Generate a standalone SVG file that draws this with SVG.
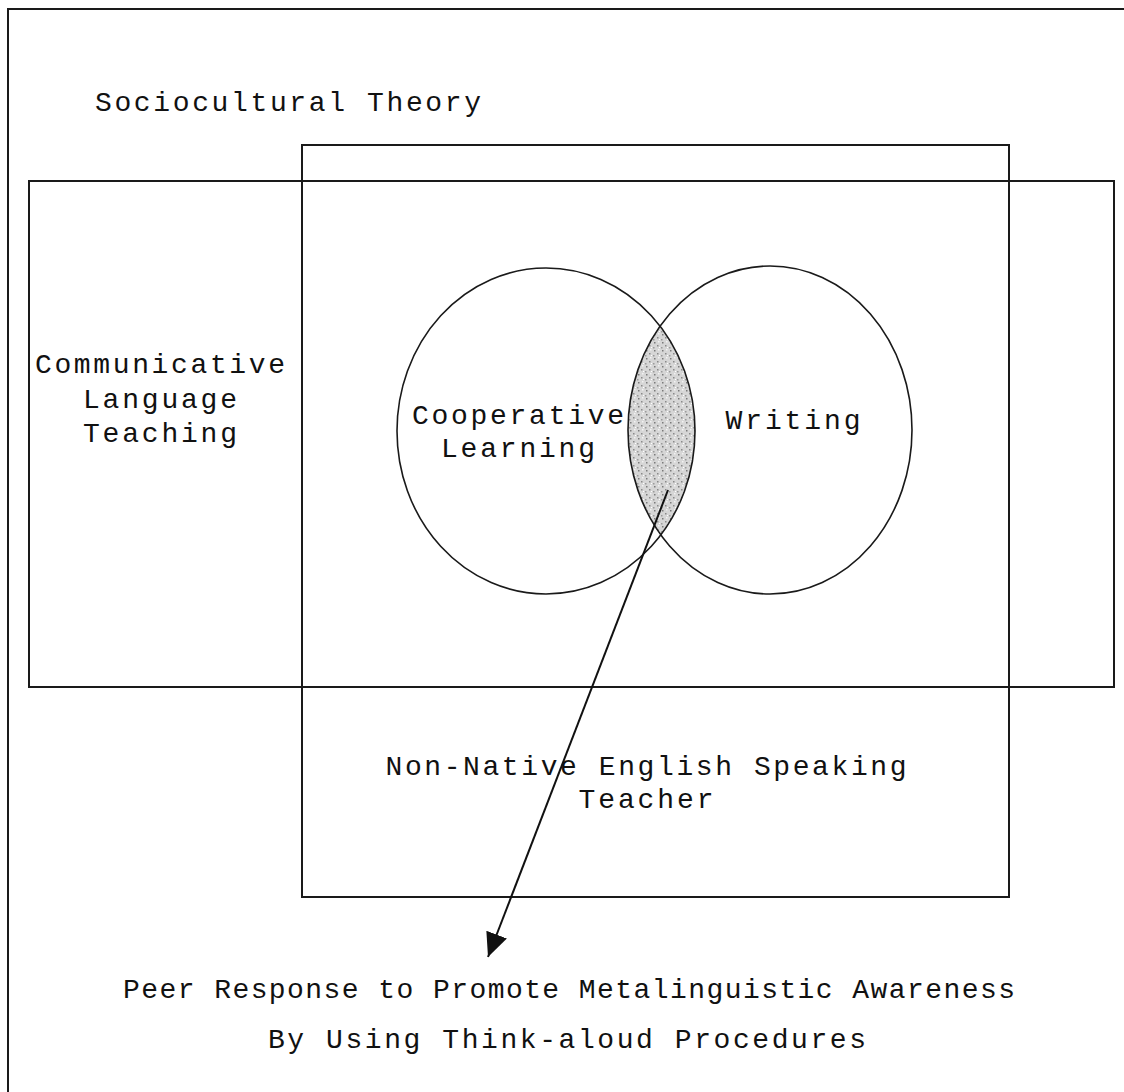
<svg xmlns="http://www.w3.org/2000/svg" width="1124" height="1092" viewBox="0 0 1124 1092">
<style>
.box{fill:none;stroke:#1a1a1a;stroke-width:2}
.circ{fill:none;stroke:#1a1a1a;stroke-width:1.6}
.t{font-family:"Liberation Mono","Courier New",monospace;font-size:28px;fill:#111;text-anchor:middle}
.conn{stroke:#111;stroke-width:2;fill:none}
</style>
<defs>
<marker id="ah" markerUnits="userSpaceOnUse" markerWidth="26" markerHeight="24" refX="24" refY="11" orient="auto">
<path d="M0,0 L24,11 L0,22 Z" fill="#111"/>
</marker>
<pattern id="stip" width="8" height="8" patternUnits="userSpaceOnUse">
<rect width="8" height="8" fill="#d6d6d6"/>
<rect x="1" y="1" width="1.5" height="1.5" fill="#8a8a8a"/>
<rect x="5" y="3" width="1.5" height="1.5" fill="#9a9a9a"/>
<rect x="2" y="5" width="1.5" height="1.5" fill="#f2f2f2"/>
<rect x="6" y="6" width="1.5" height="1.5" fill="#7a7a7a"/>
<rect x="3" y="3" width="1" height="1" fill="#ffffff"/>
</pattern>
<clipPath id="leftc">
<ellipse cx="546" cy="431" rx="149" ry="163"/>
</clipPath>
</defs>
<g id="frame">
<path class="box" d="M8,1100 L8,9 L1130,9"/>
<text class="t" x="288" y="111" textLength="386" lengthAdjust="spacing">Sociocultural Theory</text>
</g>
<g id="nnest">
<rect class="box" x="302" y="145" width="707" height="752"/>
<text class="t" x="646" y="775" textLength="521" lengthAdjust="spacing">Non-Native English Speaking</text>
<text class="t" x="646" y="808" textLength="135" lengthAdjust="spacing">Teacher</text>
</g>
<g id="clt">
<rect class="box" x="29" y="181" width="1085" height="506"/>
<text class="t" x="160" y="373" textLength="250" lengthAdjust="spacing">Communicative</text>
<text class="t" x="160" y="408" textLength="154" lengthAdjust="spacing">Language</text>
<text class="t" x="160" y="442" textLength="154" lengthAdjust="spacing">Teaching</text>
</g>
<g id="overlap">
<ellipse cx="770" cy="430" rx="142" ry="164" clip-path="url(#leftc)" fill="url(#stip)"/>
</g>
<g id="coop">
<ellipse class="circ" cx="546" cy="431" rx="149" ry="163"/>
<text class="t" x="518" y="424" textLength="212" lengthAdjust="spacing">Cooperative</text>
<text class="t" x="518" y="457" textLength="154" lengthAdjust="spacing">Learning</text>
</g>
<g id="writing">
<ellipse class="circ" cx="770" cy="430" rx="142" ry="164"/>
<text class="t" x="793" y="429" textLength="135" lengthAdjust="spacing">Writing</text>
</g>
<g id="connectors">
<line class="conn" x1="668" y1="490" x2="488" y2="957" marker-end="url(#ah)"/>
</g>
<g id="outcome">
<text class="t" x="569" y="998" textLength="892" lengthAdjust="spacing">Peer Response to Promote Metalinguistic Awareness</text>
<text class="t" x="567" y="1048" textLength="598" lengthAdjust="spacing">By Using Think-aloud Procedures</text>
</g>
</svg>
